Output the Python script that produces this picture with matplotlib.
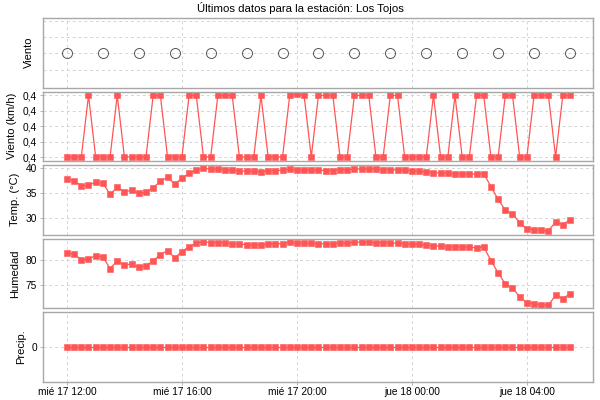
import matplotlib
matplotlib.use("Agg")
import matplotlib.pyplot as plt
import matplotlib.dates as mdates
from matplotlib.ticker import FuncFormatter, FixedLocator, NullFormatter
import pandas as pd

plt.rcParams['font.family'] = ['Liberation Sans', 'DejaVu Sans']

# ---- data ----
start_time = "2019-07-17 12:00"
n_points = 71
interval = "15min"
times = pd.date_range(start_time, periods=n_points, freq=interval)

wind_speed = [0.36, 0.36, 0.36, 0.40, 0.36, 0.36, 0.36, 0.40, 0.36, 0.36,
              0.36, 0.36, 0.40, 0.40, 0.36, 0.36, 0.36, 0.40, 0.40, 0.36,
              0.36, 0.40, 0.40, 0.40, 0.36, 0.36, 0.36, 0.40, 0.36, 0.36,
              0.36, 0.40, 0.401, 0.40, 0.36, 0.40, 0.40, 0.40, 0.36, 0.36,
              0.40, 0.40, 0.40, 0.36, 0.36, 0.40, 0.40, 0.36, 0.36, 0.36,
              0.36, 0.40, 0.36, 0.36, 0.40, 0.36, 0.36, 0.40, 0.40, 0.36,
              0.36, 0.40, 0.40, 0.36, 0.36, 0.40, 0.40, 0.40, 0.36, 0.40,
              0.40]

temperature = [37.75, 37.48, 36.49, 36.55, 37.22, 37.02, 34.77, 36.16, 35.29, 35.56,
               34.96, 35.23, 36.09, 37.35, 38.21, 36.82, 38.01, 39.01, 39.67, 40.00,
               39.80, 39.80, 39.73, 39.60, 39.47, 39.40, 39.40, 39.27, 39.47, 39.54,
               39.60, 39.87, 39.60, 39.60, 39.60, 39.60, 39.54, 39.54, 39.73, 39.73,
               39.80, 39.87, 39.87, 39.80, 39.73, 39.73, 39.67, 39.60, 39.54, 39.40,
               39.27, 39.14, 39.01, 39.01, 38.87, 38.87, 38.81, 38.87, 38.94, 36.29,
               33.77, 31.58, 30.79, 29.07, 27.81, 27.67, 27.54, 27.41, 29.26, 28.67,
               29.66]

humidity = [81.33, 81.06, 79.99, 80.06, 80.79, 80.53, 78.19, 79.73, 78.86, 79.13,
            78.46, 78.79, 79.73, 80.99, 81.79, 80.33, 81.59, 82.59, 83.26, 83.53,
            83.39, 83.39, 83.33, 83.19, 83.06, 82.99, 82.99, 82.86, 83.13, 83.13,
            83.19, 83.46, 83.26, 83.26, 83.26, 83.19, 83.13, 83.13, 83.33, 83.33,
            83.46, 83.46, 83.46, 83.39, 83.33, 83.33, 83.26, 83.19, 83.13, 83.06,
            82.93, 82.79, 82.66, 82.59, 82.59, 82.53, 82.46, 82.33, 82.53, 79.79,
            77.33, 75.13, 74.33, 72.53, 71.33, 71.13, 70.99, 70.86, 72.86, 72.19,
            73.13]

precip = [0, 0, 0, 0, 0, 0, 0, 0, 0, 0, 0, 0, 0, 0, 0, 0, 0, 0, 0, 0,
          0, 0, 0, 0, 0, 0, 0, 0, 0, 0, 0, 0, 0, 0, 0, 0, 0, 0, 0, 0,
          0, 0, 0, 0, 0, 0, 0, 0, 0, 0, 0, 0, 0, 0, 0, 0, 0, 0, 0, 0,
          0, 0, 0, 0, 0, 0, 0, 0, 0, 0, 0]

# wind direction markers: shown every 5th sample
wind_dir_times = times[::5]
wind_dir_values = [0] * len(wind_dir_times)

title = "Últimos datos para la estación: Los Tojos"
ylabels = ["Viento", "Viento (km/h)", "Temp. (°C)", "Humedad", "Precip."]
day_names = ['lun', 'mar', 'mié', 'jue', 'vie', 'sáb', 'dom']

# ---- style ----
RED = '#ff5555'
GRID = '#d4d4d4'
SPINE = '#a8a8a8'

fig = plt.figure(figsize=(6, 4), dpi=100)
W, H = 600, 400
left_px, right_px = 42.5, 592.5
tops = [18, 91.5, 165, 238.5, 312]
ph = 69.5
axes = []
for i, t in enumerate(tops):
    ax = fig.add_axes([left_px / W, 1 - (t + ph) / H, (right_px - left_px) / W, ph / H],
                      sharex=axes[0] if axes else None)
    axes.append(ax)

x0 = pd.Timestamp("2019-07-17 11:09")
x1 = pd.Timestamp("2019-07-18 06:17")

def fmt_time(x, pos=None):
    d = mdates.num2date(x)
    return f"{day_names[d.weekday()]} {d.day} {d:%H:%M}"

def fmt_comma(v, pos=None):
    return f"{v:.1f}".replace('.', ',')

for ax in axes:
    for s in ax.spines.values():
        s.set_color(SPINE)
        s.set_linewidth(1.0)
    ax.grid(True, color=GRID, linestyle=(0, (3, 3)), linewidth=0.7)
    ax.set_axisbelow(True)
    ax.tick_params(axis='both', labelsize=7.3, colors='#000000', length=2,
                   width=0.6, pad=2)
    ax.tick_params(axis='both', color=SPINE)
    ax.xaxis.set_major_locator(mdates.HourLocator(byhour=[0, 4, 8, 12, 16, 20]))
    ax.set_xlim(x0, x1)

for ax in axes[:-1]:
    ax.tick_params(axis='x', labelbottom=False, length=0)
axes[-1].xaxis.set_major_formatter(FuncFormatter(fmt_time))

# panel 0: wind direction
ax = axes[0]
ax.plot(wind_dir_times, wind_dir_values, linestyle='none', marker='o', ms=7.2,
        mfc='none', mec='#555555', mew=0.7)
ax.set_ylim(-2.1, 2.16)
ax.yaxis.set_major_locator(FixedLocator([-1, 0, 1, 2]))
ax.yaxis.set_major_formatter(NullFormatter())
ax.tick_params(axis='y', length=0)

# panel 1: wind speed
ax = axes[1]
ax.plot(times, wind_speed, color=RED, lw=0.9, marker='s', ms=5, mfc=RED, mec=RED, mew=0.4)
ax.set_ylim(0.3574, 0.4026)
ax.yaxis.set_major_locator(FixedLocator([0.36, 0.37, 0.38, 0.39, 0.40]))
ax.yaxis.set_major_formatter(FuncFormatter(fmt_comma))

# panel 2: temperature
ax = axes[2]
ax.plot(times, temperature, color=RED, lw=0.9, marker='s', ms=5, mfc=RED, mec=RED, mew=0.4)
ax.set_ylim(26.7, 40.65)
ax.yaxis.set_major_locator(FixedLocator([30, 35, 40]))

# panel 3: humidity
ax = axes[3]
ax.plot(times, humidity, color=RED, lw=0.9, marker='s', ms=5, mfc=RED, mec=RED, mew=0.4)
ax.set_ylim(70.3, 84.2)
ax.yaxis.set_major_locator(FixedLocator([75, 80]))

# panel 4: precipitation
ax = axes[4]
ax.plot(times, precip, color=RED, lw=0.9, marker='s', ms=5, mfc=RED, mec=RED, mew=0.4)
ax.set_ylim(-1, 1)
ax.yaxis.set_major_locator(FixedLocator([0]))

for ax, lab in zip(axes, ylabels):
    ax.set_ylabel(lab, fontsize=8, labelpad=4)

fig.text(0.5, 1 - 8 / H, title, ha='center', va='center', fontsize=8.2)

fig.savefig("out.png", dpi=100)
